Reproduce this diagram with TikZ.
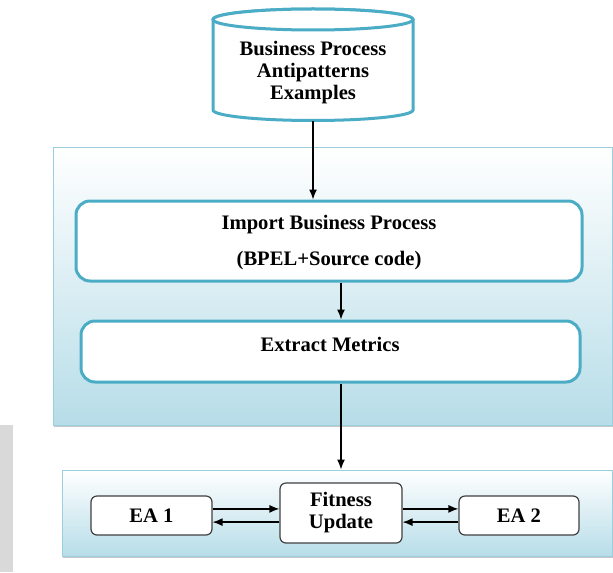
\documentclass[tikz,border=0pt]{standalone}
\usepackage{fontspec}
\setmainfont{Liberation Serif}
\usetikzlibrary{positioning,calc,arrows.meta,shadows}
\definecolor{Teal}{HTML}{4BACC6}
\definecolor{PanelBlue}{HTML}{B7DDE8}
\definecolor{PanelLine}{HTML}{9CCFDD}
\definecolor{BoxGray}{HTML}{404040}
\definecolor{SideGray}{HTML}{D9D9D9}
\tikzset{
  flow box/.style={draw=Teal,line width=1.5pt,fill=white,rounded corners=7pt,
    align=center,font=\fontsize{10.3}{18}\selectfont\bfseries,inner sep=0pt},
  ea box/.style={draw=BoxGray,line width=.6pt,fill=white,rounded corners=3pt,
    align=center,font=\fontsize{10.3}{11}\selectfont\bfseries,inner sep=0pt},
  panel/.style={draw=PanelLine,line width=.5pt,top color=white,bottom color=PanelBlue,
    drop shadow={shadow xshift=.3pt,shadow yshift=-.8pt,opacity=.45}},
  flow arrow/.style={->,>={Latex[length=5pt,width=4pt]},line width=.65pt,draw=black},
  plain label/.style={align=center,font=\fontsize{10.3}{11}\selectfont\bfseries},
  drum/.style={draw=Teal,line width=1.5pt,fill=white}
}
\begin{document}
\begin{tikzpicture}[x=.5pt,y=-.5pt]
  \useasboundingbox (0,0) rectangle (613,572);
  \fill[SideGray] (0,425) rectangle (13,572);
  % panels
  \node[panel,minimum width=279.5pt,minimum height=139pt,inner sep=0pt] (upper) at (332.5,286) {};
  \node[panel,minimum width=275pt,minimum height=43pt,inner sep=0pt] (lower) at (337,513) {};
  % source
  \draw[drum] (213,19.5) -- (213,110) arc[start angle=180,end angle=360,x radius=50pt,y radius=5.25pt]
    -- (413,19.5) arc[start angle=0,end angle=180,x radius=50pt,y radius=5.25pt] -- cycle;
  \draw[drum] (313,19.5) ellipse[x radius=50pt,y radius=5.25pt];
  \node[minimum width=100pt,minimum height=55.5pt,inner sep=0pt] (source) at (313,65) {};
  \node[plain label] (sourcelabel) at (313,72.5) {Business Process\\Antipatterns\\Examples};
  % steps
  \node[flow box,minimum width=253pt,minimum height=40pt] (import) at (329,241)
    {\rule{0pt}{9pt}Import Business Process\\(BPEL+Source code)};
  \node[flow box,minimum width=249.5pt,minimum height=30.5pt] (extract) at (330.5,351.5) {};
  \node[plain label] (extractlabel) at (330,344) {Extract Metrics};
  % EA loop
  \node[ea box,minimum width=60.5pt,minimum height=19.5pt] (ea1) at (151.5,515.5) {EA 1};
  \node[ea box,minimum width=61pt,minimum height=30pt] (fitness) at (341,513) {Fitness\\Update};
  \node[ea box,minimum width=60pt,minimum height=19.5pt] (ea2) at (519,515.5) {EA 2};
  \draw[flow arrow] (source.south) -- (source.south |- import.north);
  \draw[flow arrow] (fitness.north |- import.south) -- (fitness.north |- extract.north);
  \draw[flow arrow] (fitness.north |- extract.south) -- (fitness.north |- lower.north);
  \draw[flow arrow] ([yshift=3.3pt]ea1.east) -- ([yshift=3.3pt]ea1.east -| fitness.west);
  \draw[flow arrow] ([yshift=-3.3pt]ea1.east -| fitness.west) -- ([yshift=-3.3pt]ea1.east);
  \draw[flow arrow] ([yshift=3.3pt]ea2.west -| fitness.east) -- ([yshift=3.3pt]ea2.west);
  \draw[flow arrow] ([yshift=-3.3pt]ea2.west) -- ([yshift=-3.3pt]ea2.west -| fitness.east);
\end{tikzpicture}
\end{document}
